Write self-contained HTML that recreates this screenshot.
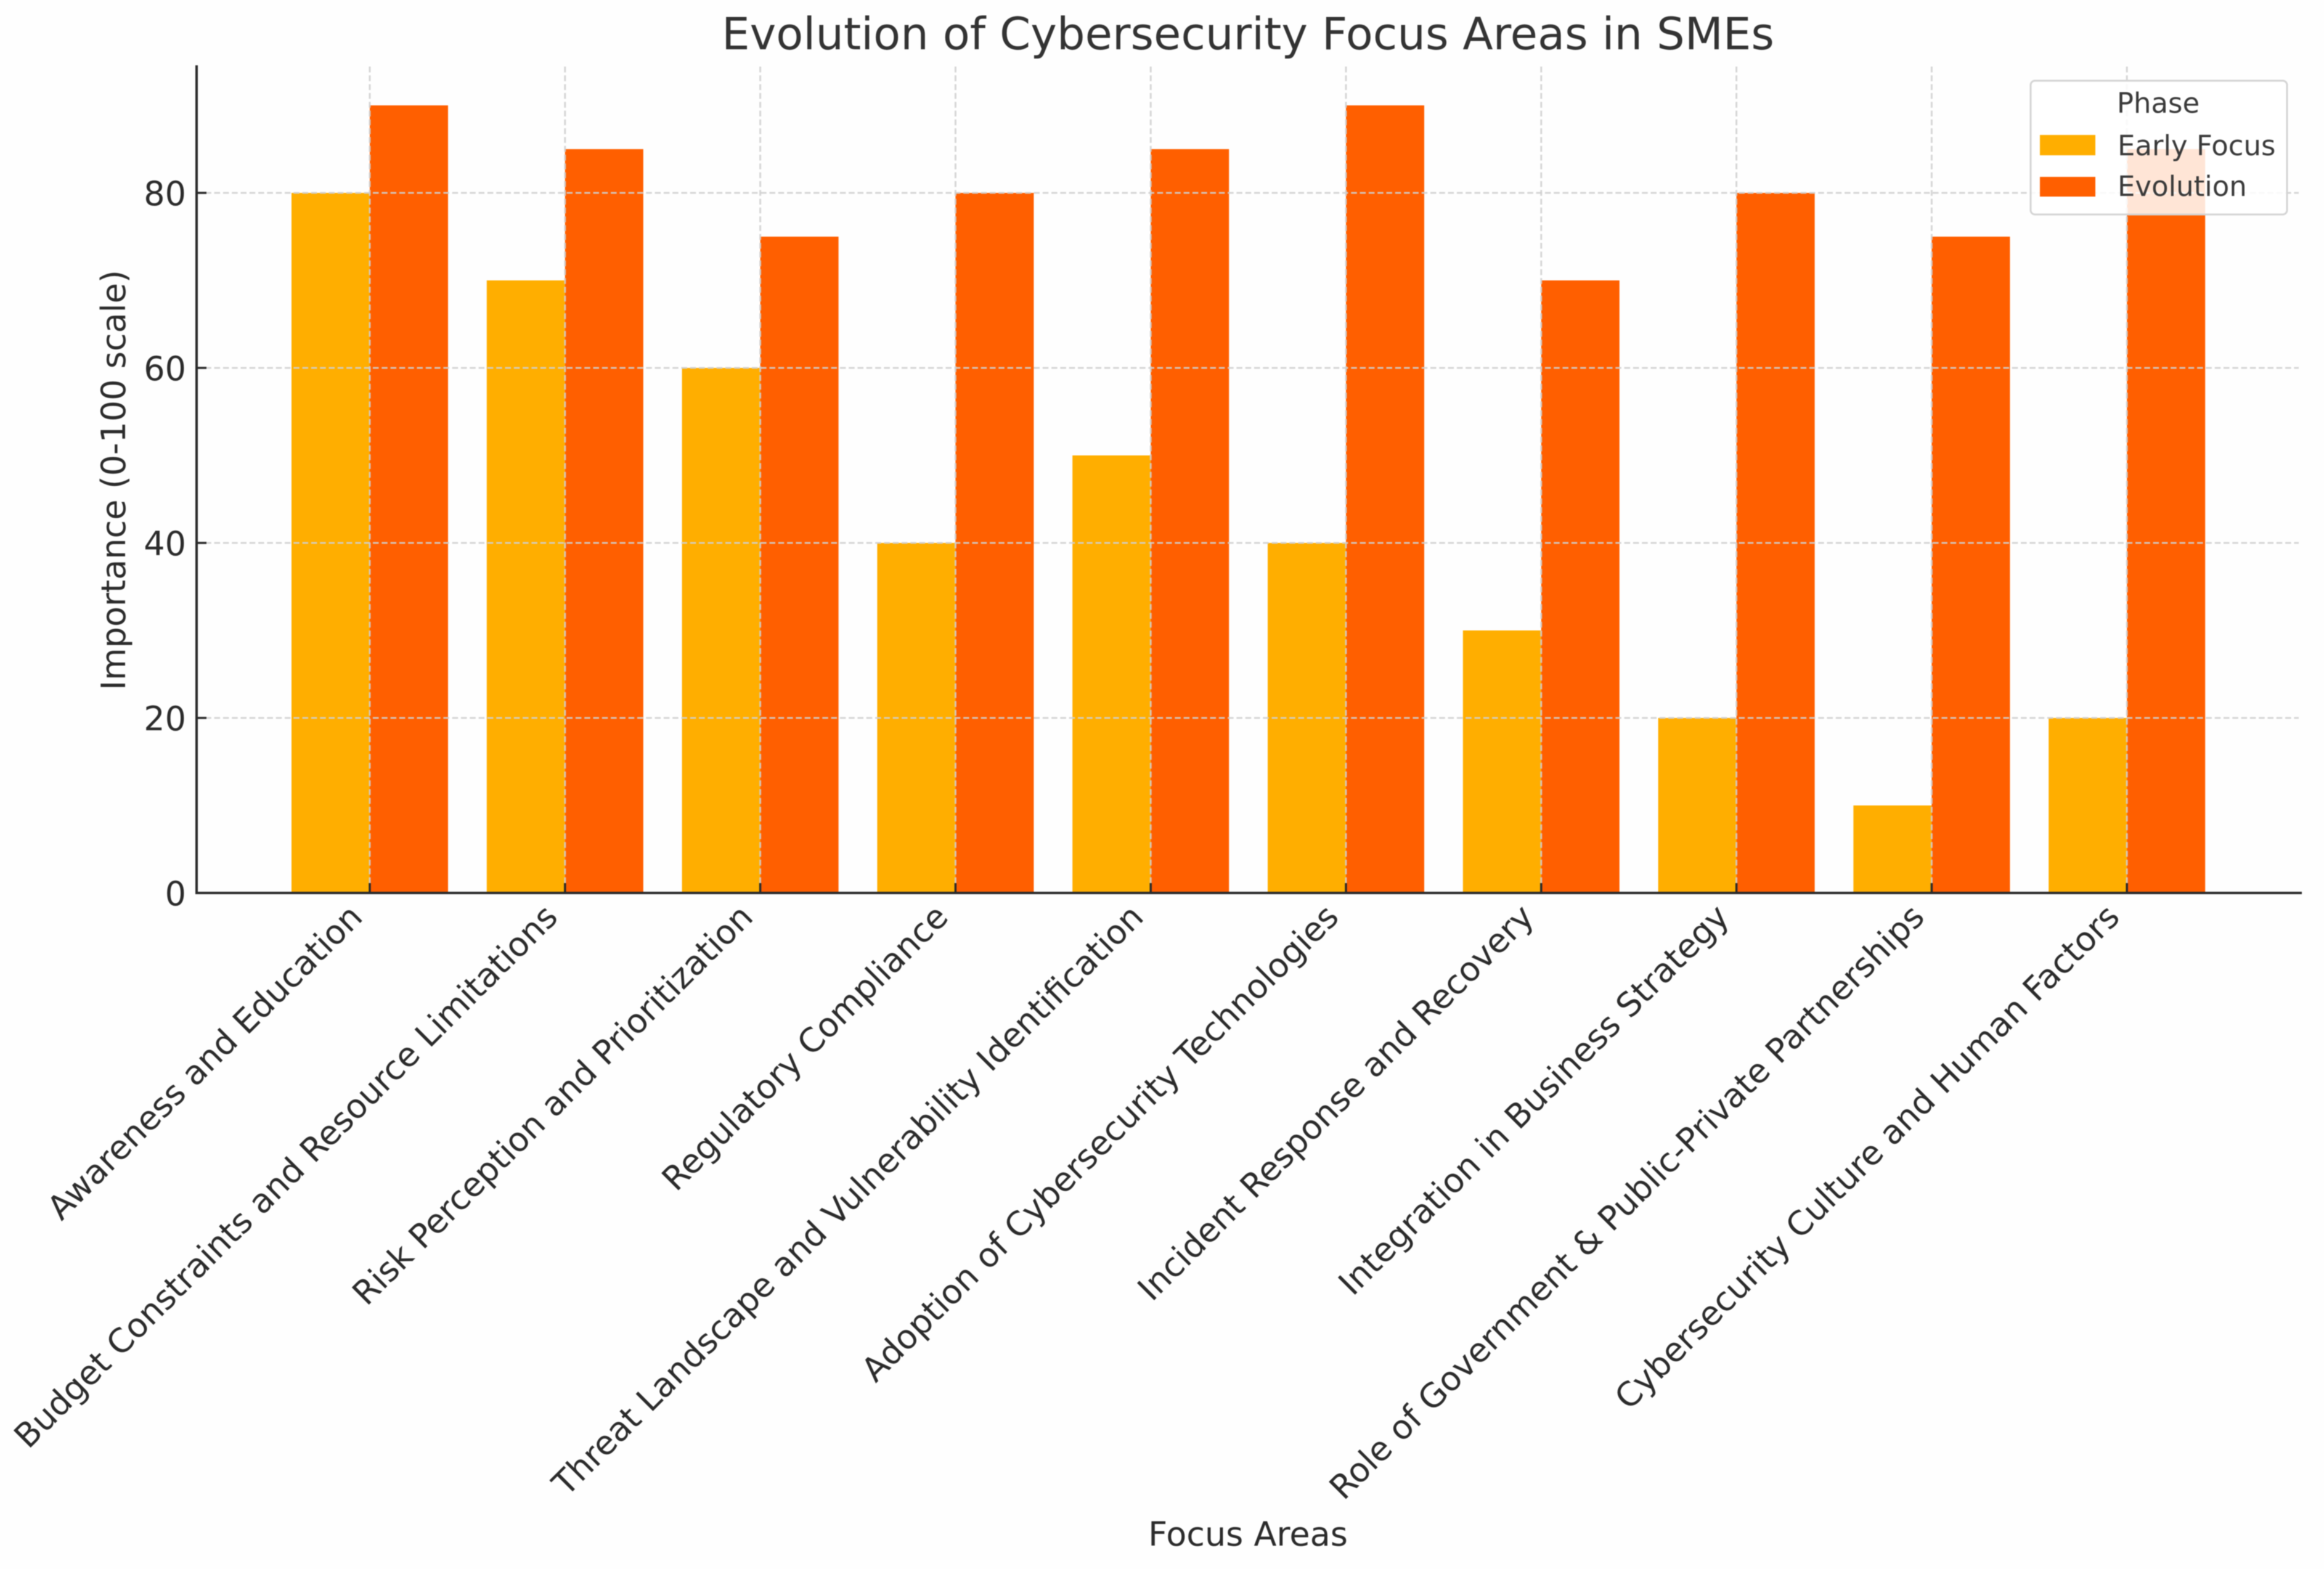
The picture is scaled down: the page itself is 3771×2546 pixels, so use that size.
<!DOCTYPE html>
<html lang="en">
<head>
<meta charset="utf-8">
<title>Evolution of Cybersecurity Focus Areas in SMEs</title>
<style>
  html, body { margin: 0; padding: 0; background: #fefefe; }
  body { width: 3771px; height: 2546px; overflow: hidden; }
  svg { display: block; filter: blur(0.9px); }
  text { font-family: "DejaVu Sans", "Liberation Sans", sans-serif; fill: #2b2b2b; }
</style>
</head>
<body>
<svg id="chart" xmlns="http://www.w3.org/2000/svg" width="3771" height="2546" viewBox="0 0 3771 2546">
  <rect x="0" y="0" width="3771" height="2546" fill="#fefefe"/>
  <g id="bars"></g>
  <g id="grid"></g>
  <g id="ticks"></g>
  <line x1="319" y1="106" x2="319" y2="1451" stroke="#2b2b2b" stroke-width="4"/>
  <line x1="317" y1="1449" x2="3735" y2="1449" stroke="#2b2b2b" stroke-width="4"/>
  <g id="xlabels"></g>
  <g id="ylabels"></g>
  <text x="2025" y="80" font-size="72" text-anchor="middle" style="fill:#333">Evolution of Cybersecurity Focus Areas in SMEs</text>
  <text x="2025" y="2508" font-size="54" text-anchor="middle">Focus Areas</text>
  <text transform="translate(203 779) rotate(-90)" font-size="54" text-anchor="middle">Importance (0-100 scale)</text>
  <g>
    <rect x="3295" y="131" width="416" height="217" rx="7" ry="7" fill="#ffffff" fill-opacity="0.84" stroke="#d4d4d4" stroke-width="3"/>
    <text x="3502" y="183" font-size="45" text-anchor="middle" style="fill:#3a3a3a">Phase</text>
    <rect x="3310" y="219" width="90" height="33" fill="#ffae00"/>
    <text x="3436" y="252" font-size="45" style="fill:#3a3a3a">Early Focus</text>
    <rect x="3310" y="287" width="90" height="32" fill="#ff5f00"/>
    <text x="3436" y="318" font-size="45" style="fill:#3a3a3a">Evolution</text>
  </g>
</svg>
<script>
const categories = [
  "Awareness and Education",
  "Budget Constraints and Resource Limitations",
  "Risk Perception and Prioritization",
  "Regulatory Compliance",
  "Threat Landscape and Vulnerability Identification",
  "Adoption of Cybersecurity Technologies",
  "Incident Response and Recovery",
  "Integration in Business Strategy",
  "Role of Government & Public-Private Partnerships",
  "Cybersecurity Culture and Human Factors"
];
const earlyFocus = [80, 70, 60, 40, 50, 40, 30, 20, 10, 20];
const evolution = [90, 85, 75, 80, 85, 90, 70, 80, 75, 85];
const yTicks = [0, 20, 40, 60, 80];

const NS = "http://www.w3.org/2000/svg";
const xAxis = function (i) { return 600 + 316.8 * i; };
const yAxis = function (v) { return 1449 - 14.2 * v; };
const barWidth = 127;
const axisTop = 108;
const axisLeft = 319;
const axisRight = 3730;
const gridDash = "9.5 4.8";

function make(tag, parentId) {
  const el = document.createElementNS(NS, tag);
  document.getElementById(parentId).appendChild(el);
  return el;
}
function setAll(el, attrs) {
  Object.keys(attrs).forEach(function (k) { el.setAttribute(k, attrs[k]); });
}

categories.forEach(function (name, i) {
  const a = make("rect", "bars");
  setAll(a, { x: xAxis(i) - barWidth, y: yAxis(earlyFocus[i]), width: barWidth, height: yAxis(0) - yAxis(earlyFocus[i]), fill: "#ffae00" });
  
  

  const b = make("rect", "bars");
  setAll(b, { x: xAxis(i), y: yAxis(evolution[i]), width: barWidth, height: yAxis(0) - yAxis(evolution[i]), fill: "#ff5f00" });
  
  

  const g = make("line", "grid");
  setAll(g, { x1: xAxis(i), x2: xAxis(i), y1: axisTop, y2: yAxis(0), stroke: "#cfcfcf", "stroke-width": 3, "stroke-dasharray": gridDash, "stroke-opacity": 0.85 });
  
  

  const t = make("line", "ticks");
  setAll(t, { x1: xAxis(i), x2: xAxis(i), y1: yAxis(0), y2: yAxis(0) - 16, stroke: "#2b2b2b", "stroke-width": 3.5 });
  
  

  const l = make("text", "xlabels");
  setAll(l, { transform: "translate(" + (xAxis(i) - 9) + " " + (yAxis(0) + 42) + ") rotate(-45)", "font-size": 54, "text-anchor": "end" });
  l.textContent = name;
  
  
});

yTicks.forEach(function (v) {
  if (v > 0) {
    const g = make("line", "grid");
    setAll(g, { x1: axisLeft, x2: axisRight, y1: yAxis(v), y2: yAxis(v), stroke: "#cfcfcf", "stroke-width": 3, "stroke-dasharray": gridDash, "stroke-opacity": 0.85 });
    
    
  }
  const t = make("line", "ticks");
  setAll(t, { x1: axisLeft, x2: axisLeft + 16, y1: yAxis(v), y2: yAxis(v), stroke: "#2b2b2b", "stroke-width": 3.5 });
  
  

  const l = make("text", "ylabels");
  setAll(l, { x: 302, y: yAxis(v) + 20, "font-size": 54, "text-anchor": "end" });
  l.textContent = String(v);
  
  
});
</script>
</body>
</html>
